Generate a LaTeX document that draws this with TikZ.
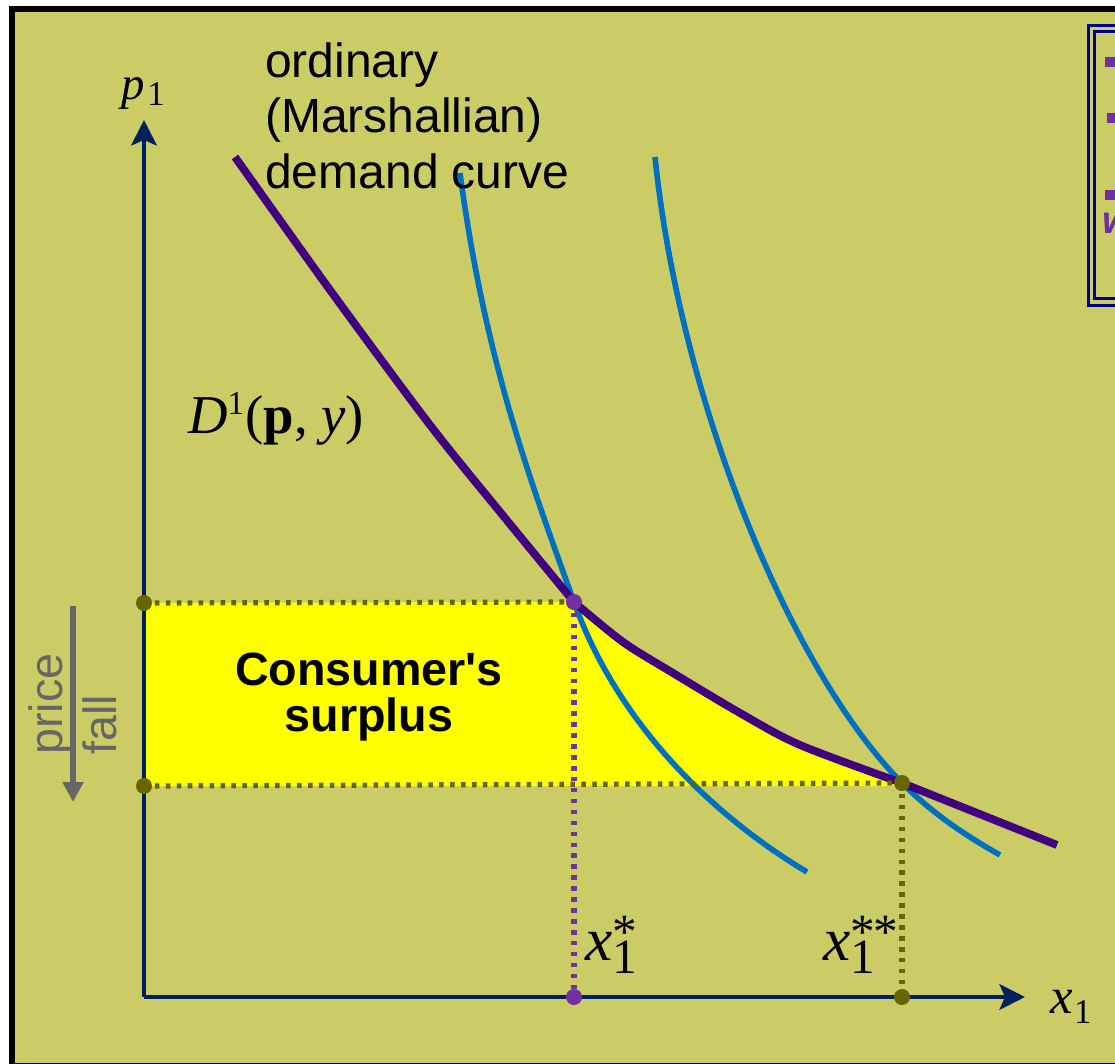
\documentclass[tikz,border=0pt]{standalone}
\usepackage{fontspec}
\setmainfont{Liberation Serif}
\setsansfont{Liberation Sans}
\usetikzlibrary{arrows.meta}
\definecolor{bg}{RGB}{204,204,102}
\definecolor{navy}{RGB}{0,32,96}
\definecolor{demandc}{RGB}{64,0,128}
\definecolor{hicks}{RGB}{0,112,192}
\definecolor{olivedot}{RGB}{102,102,0}
\definecolor{purpdot}{RGB}{112,48,160}
\definecolor{boxnavy}{RGB}{0,0,140}
\definecolor{greyarrow}{RGB}{102,102,102}
\definecolor{csyellow}{RGB}{255,255,0}
\newcommand{\straightquote}{\XeTeXglyph\XeTeXglyphindex "quotesingle"\relax}
\begin{document}
\begin{tikzpicture}[x=0.75pt,y=-0.75pt,
  axisline/.style={line width=3.7pt, color=navy, -{Stealth[length=19pt,width=19pt,inset=4pt]}},
  demandline/.style={line width=5.9pt, color=demandc},
  hicksline/.style={line width=4.2pt, color=hicks},
  dotline/.style={line width=3.9pt, dash pattern=on 3.4pt off 4.8pt},
  dotnode/.style={circle, inner sep=0pt, minimum size=12pt, fill=#1},
  txt/.style={inner sep=0pt, anchor=base west},
  sanslab/.style={txt, font=\sffamily\fontsize{36}{42}\selectfont},
  cslab/.style={inner sep=0pt, anchor=base, font=\sffamily\bfseries\fontsize{35}{40}\selectfont},
  bullet/.style={fill=purpdot}
]
\useasboundingbox (0,0) rectangle (1115,1064);
\clip (0,0) rectangle (1115,1064);
% frame and background
\fill[white] (0,0) rectangle (1115,1064);
\fill[black] (9,6) rectangle (1130,1075);
\fill[bg] (15,12) rectangle (1130,1062.5);
% partial box at the top right
\draw[boxnavy, line width=2.25pt] (1088,25) rectangle (1140,305);
\draw[boxnavy, line width=2.25pt] (1094,31) rectangle (1140,298);
\fill[bullet] (1105,57) rectangle (1116,67);
\fill[bullet] (1107,113) rectangle (1118,123);
\fill[bullet] (1105,190) rectangle (1116,200);
\node[txt, text=purpdot, font=\sffamily\bfseries\itshape\fontsize{29}{29}\selectfont] (wtxt) at (1102,233) {w};
% key points
\coordinate (O) at (144,997);
\coordinate (ytop) at (144,120);
\coordinate (xend) at (1025,997);
\coordinate (A) at (574,602);
\coordinate (B) at (902,783);
\coordinate (A0) at (574,997);
\coordinate (B0) at (902,997);
\coordinate (PA) at (144,603);
\coordinate (PB) at (144,786);
% consumer's surplus area
\fill[csyellow] (146,603) -- plot[smooth] coordinates {(574,602) (623,642) (673,673) (740,713) (800,745) (902,783)} -- (902,786) -- (146,786) -- cycle;
% Hicksian curves
\draw[hicksline] (460,173) .. controls (485,360) and (530,480) .. (A)
  .. controls (620,730) and (720,820) .. (807,872);
\draw[hicksline] (655,157) .. controls (680,400) and (790,670) .. (B)
  .. controls (935,816) and (970,838) .. (1000,855);
% ordinary demand curve
\draw[demandline] plot[smooth] coordinates {(235,157) (330,290) (430,425) (505,518) (574,602)}
  -- plot[smooth] coordinates {(574,602) (623,642) (673,673) (740,713) (800,745) (902,783)}
  -- (1057,845);
% dotted guides
\draw[dotline, olivedot] (PA) -- (A);
\draw[dotline, olivedot] (PB) -- (B);
\draw[dotline, purpdot] (A) -- (A0);
\draw[dotline, olivedot] (B) -- (B0);
% axes
\draw[axisline] (O) -- (ytop);
\draw[axisline] (O) -- (xend);
% dots
\node[dotnode=purpdot] (dA) at (A) {};
\node[dotnode=olivedot] (dB) at (B) {};
\node[dotnode=purpdot] (dA0) at (A0) {};
\node[dotnode=olivedot] (dB0) at (B0) {};
\node[dotnode=olivedot] (dPA) at (PA) {};
\node[dotnode=olivedot] (dPB) at (PB) {};
% price fall arrow
\coordinate (pf1) at (73,606);
\coordinate (pf2) at (73,802);
\draw[line width=4.5pt, greyarrow, -{Triangle[length=15pt,width=15pt]}] (pf1) -- (pf2);
\node[txt, rotate=90, text=greyarrow, font=\sffamily\fontsize{35}{35}\selectfont] (price) at (62,755) {price};
\node[txt, rotate=90, text=greyarrow, font=\sffamily\fontsize{35}{35}\selectfont] (fall) at (116,755) {fall};
% labels
\node[sanslab] (l1) at (265,77) {ordinary};
\node[sanslab] (l2) at (265,132) {(Marshallian)};
\node[sanslab] (l3) at (265,188) {demand curve};
\node[cslab] (cs1) at (369,685) {Consumer\straightquote s};
\node[cslab] (cs2) at (369,731) {surplus};
\node[txt, font=\fontsize{41}{48}\selectfont] (dlab) at (188,433)
  {\textit{D}\raisebox{14pt}{\fontsize{25}{25}\selectfont 1}\kern1pt(\textbf{p}, \textit{y})};
\node[txt, font=\fontsize{35}{40}\selectfont] (p1) at (121,99)
  {\textit{p}\kern2pt\raisebox{-5pt}{\fontsize{26}{26}\selectfont 1}};
\node[txt, font=\fontsize{38}{44}\selectfont] (x1ax) at (1050,1013)
  {\textit{x}\kern1pt\raisebox{-7.5pt}{\fontsize{26}{26}\selectfont 1}};
\node[txt, font=\fontsize{46}{52}\selectfont] (xs) at (585,960)
  {\textit{x}\kern0pt\rlap{\raisebox{-9.75pt}{\fontsize{37}{37}\selectfont 1}}\raisebox{9pt}{\fontsize{37}{37}\selectfont *}};
\node[txt, font=\fontsize{46}{52}\selectfont] (xss) at (823,960)
  {\textit{x}\kern0pt\rlap{\raisebox{-9.75pt}{\fontsize{37}{37}\selectfont 1}}\raisebox{9pt}{\fontsize{37}{37}\selectfont *\kern-1pt*}};
\end{tikzpicture}
\end{document}
